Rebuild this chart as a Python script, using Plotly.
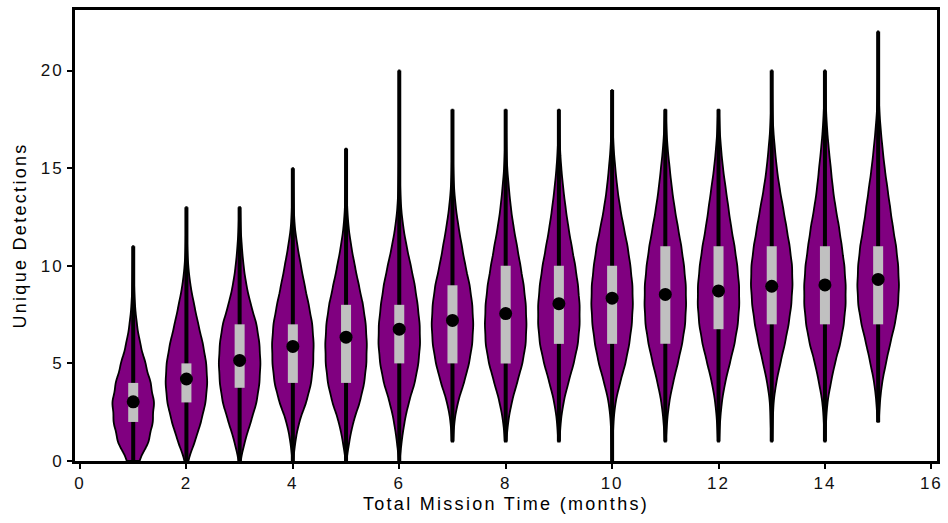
import numpy as np
import plotly.graph_objects as go

# ---------------- data ----------------
months = list(range(1, 16))
x_tick_vals = [0, 2, 4, 6, 8, 10, 12, 14, 16]
y_tick_vals = [0, 5, 10, 15, 20]

min_det = [0, 0, 0, 0, 0, 0, 1, 1, 1, 0, 1, 1, 1, 1, 2]
max_det = [11, 13, 13, 15, 16, 20, 18, 18, 18, 19, 18, 18, 20, 20, 22]
q1_det = [2, 3, 3.75, 4, 4, 5, 5, 5, 6, 6, 6, 6.75, 7, 7, 7]
q3_det = [4, 5, 7, 7, 8, 8, 9, 10, 10, 10, 11, 11, 11, 11, 11]
mean_det = [3.03, 4.2, 5.15, 5.87, 6.34, 6.75, 7.2, 7.55, 8.06, 8.34, 8.53, 8.71, 8.95, 9.02, 9.3]

# estimated relative frequency of each detection count (starting at min_det)
counts_m1 = [28, 75, 93, 100, 83, 58, 33, 17, 8, 4, 2, 1]
counts_m2 = [5, 40, 68, 90, 98, 93, 77, 55, 36, 18, 8, 3, 2, 1]
counts_m3 = [3, 24, 52, 80, 93, 98, 93, 80, 52, 31, 18, 10, 4, 2]
counts_m4 = [1, 11, 28, 62, 85, 94, 96, 90, 73, 54, 37, 21, 8, 4, 2, 1]
counts_m5 = [1, 15, 33, 65, 86, 96, 98, 93, 80, 60, 41, 24, 11, 5, 2, 1, 1]
counts_m6 = [1, 11, 24, 44, 73, 90, 98, 96, 86, 73, 54, 34, 18, 8, 4, 2, 1, 1, 1, 1, 1]
counts_m7 = [3, 8, 24, 54, 78, 93, 98, 93, 81, 60, 44, 28, 15, 7, 3, 2, 1, 1]
counts_m8 = [3, 11, 28, 54, 80, 96, 99, 96, 86, 70, 54, 37, 24, 15, 7, 3, 2, 1]
counts_m9 = [3, 8, 21, 44, 70, 90, 98, 98, 90, 77, 60, 44, 31, 20, 11, 5, 2, 1]
counts_m10 = [1, 3, 6, 15, 37, 63, 81, 93, 98, 96, 86, 73, 54, 37, 24, 15, 7, 3, 2, 1]
counts_m11 = [2, 8, 18, 37, 60, 81, 96, 100, 99, 90, 77, 60, 44, 31, 21, 11, 5, 2]
counts_m12 = [2, 7, 15, 31, 54, 77, 93, 100, 99, 90, 77, 60, 47, 34, 21, 12, 5, 2]
counts_m13 = [2, 5, 8, 21, 41, 63, 81, 94, 100, 98, 86, 70, 54, 37, 24, 15, 7, 3, 2, 1]
counts_m14 = [2, 5, 11, 28, 47, 73, 90, 99, 99, 93, 80, 67, 50, 37, 28, 18, 10, 5, 2, 1]
counts_m15 = [3, 8, 18, 37, 57, 80, 96, 100, 96, 86, 70, 57, 44, 31, 21, 12, 5, 2, 1, 1, 1]

detection_counts = [counts_m1, counts_m2, counts_m3, counts_m4, counts_m5,
                    counts_m6, counts_m7, counts_m8, counts_m9, counts_m10,
                    counts_m11, counts_m12, counts_m13, counts_m14, counts_m15]

# ---------------- styling ----------------
PURPLE = "#800080"
BOX_GRAY = "#c0c0c0"
FONT = "Liberation Sans, Arial, sans-serif"
kde_bandwidth = [0.5] + [0.55] * 14

fig = go.Figure()

for m, start, cnts, bw in zip(months, min_det, detection_counts, kde_bandwidth):
    values = np.arange(start, start + len(cnts))
    sample = np.repeat(values, cnts)
    fig.add_trace(go.Violin(
        y=sample, x0=m, width=0.78, scalemode="width", spanmode="hard",
        bandwidth=bw, fillcolor=PURPLE, opacity=1,
        line=dict(color="black", width=1.8),
        points=False, box_visible=False, meanline_visible=False,
        showlegend=False, hoverinfo="skip",
    ))

# whiskers min -> max
wx, wy = [], []
for m, lo, hi in zip(months, min_det, max_det):
    wx += [m, m, None]
    wy += [lo, hi, None]
fig.add_trace(go.Scatter(x=wx, y=wy, mode="lines",
                         line=dict(color="black", width=4),
                         showlegend=False, hoverinfo="skip"))

# interquartile boxes
bx, by = [], []
for m, a, b in zip(months, q1_det, q3_det):
    bx += [m, m, None]
    by += [a, b, None]
fig.add_trace(go.Scatter(x=bx, y=by, mode="lines",
                         line=dict(color=BOX_GRAY, width=10),
                         showlegend=False, hoverinfo="skip"))

# means
fig.add_trace(go.Scatter(x=months, y=mean_det, mode="markers",
                         marker=dict(color="black", size=13),
                         showlegend=False))

axis_common = dict(
    showline=True, linecolor="black", linewidth=3, mirror=True,
    showgrid=False, zeroline=False,
    ticks="outside", ticklen=5, tickwidth=1.5, tickcolor="black",
    tickfont=dict(family=FONT, size=17, color="#111111"),
)

fig.update_layout(
    width=948, height=523,
    margin=dict(l=75, r=9, t=7, b=62),
    paper_bgcolor="white", plot_bgcolor="white",
    violinmode="overlay",
    font=dict(family=FONT, color="black"),
    xaxis=dict(range=[-0.094, 16.106], tickvals=x_tick_vals, type="linear",
               title=dict(text="Total Mission Time (months)",
                          font=dict(family=FONT, size=18), standoff=5),
               **axis_common),
    yaxis=dict(range=[0, 23.1], tickvals=y_tick_vals,
               title=dict(text="Unique Detections",
                          font=dict(family=FONT, size=18), standoff=14),
               **axis_common),
)

post = """
document.body.style.margin = '0';
var gd = document.getElementById('{plot_id}');
function spaceText() {
  gd.querySelectorAll('.xtick text, .ytick text').forEach(function (t) { t.style.letterSpacing = '2px'; });
  gd.querySelectorAll('.xtitle, .ytitle').forEach(function (t) { t.style.letterSpacing = '2.3px'; });
}
spaceText();
gd.on('plotly_afterplot', spaceText);
"""

fig.write_html("out.html", post_script=post, config={"displayModeBar": False})
